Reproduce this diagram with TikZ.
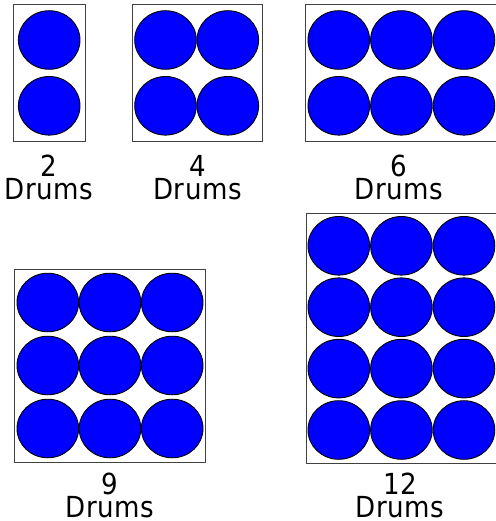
\documentclass[tikz,border=0pt]{standalone}
\usepackage{fontspec}
\newfontfamily\lblfont[LetterSpace=2]{DejaVu Sans Condensed}
\begin{document}
\begin{tikzpicture}[x=1pt,y=-1pt,
  frame/.style={draw=black!75, line width=1pt, fill=white},
  drum/.style={draw=black, line width=0.9pt, fill=blue},
  lbl/.style={font=\lblfont\fontsize{29}{29}\selectfont, inner sep=0pt, anchor=base}]
\useasboundingbox (0,0) rectangle (495,521);
\fill[white] (0,0) rectangle (495,521);
% Box 1: 2 drums
\draw[frame] (13.3,5) rectangle (85,141.7);
\foreach \y in {40,105.8} \draw[drum] (49.2,\y) ellipse [x radius=30.8, y radius=29.3];
\node[lbl] (n2) at (49.2,176.7) {2};
\node[lbl] (d2) at (49.2,199.5) {Drums};
% Box 2: 4 drums
\draw[frame] (132.3,5) rectangle (262.7,141.7);
\foreach \x in {165.5,227.8} \foreach \y in {40,105.8} \draw[drum] (\x,\y) ellipse [x radius=30.8, y radius=29.3];
\node[lbl] (n4) at (197.5,176.7) {4};
\node[lbl] (d4) at (197.5,199.5) {Drums};
% Box 3: 6 drums
\draw[frame] (305.7,5) rectangle (498,141.7);
\foreach \x in {338.8,401.4,464} \foreach \y in {40,105.8} \draw[drum] (\x,\y) ellipse [x radius=30.8, y radius=29.3];
\node[lbl] (n6) at (399,176.7) {6};
\node[lbl] (d6) at (399,199.5) {Drums};
% Box 4: 9 drums
\draw[frame] (14.3,269.3) rectangle (205,462.7);
\foreach \x in {47.8,110,172.2} \foreach \y in {302.5,365.5,428.5} \draw[drum] (\x,\y) ellipse [x radius=30.8, y radius=29.3];
\node[lbl] (n9) at (109.7,494) {9};
\node[lbl] (d9) at (109.7,517.5) {Drums};
% Box 5: 12 drums
\draw[frame] (306,213.3) rectangle (498,463.3);
\foreach \x in {338.8,401.4,464} \foreach \y in {245.8,307.2,368.6,430} \draw[drum] (\x,\y) ellipse [x radius=30.8, y radius=29.3];
\node[lbl] (n12) at (400,494) {12};
\node[lbl] (d12) at (400,517.5) {Drums};
\end{tikzpicture}
\end{document}
